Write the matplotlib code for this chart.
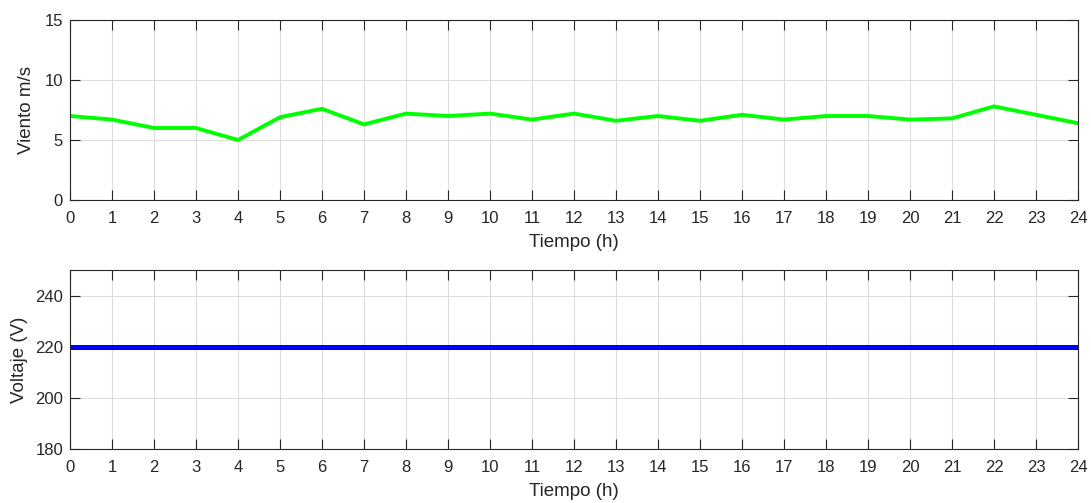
import numpy as np
import matplotlib.pyplot as plt

plt.rcParams['font.family'] = ['Liberation Sans', 'DejaVu Sans']

# datos
horas = np.arange(0, 25)
viento = [7.0, 6.7, 6.0, 6.0, 5.0, 6.9, 7.6, 6.3, 7.2, 7.0, 7.2, 6.7, 7.2,
          6.6, 7.0, 6.6, 7.1, 6.7, 7.0, 7.0, 6.7, 6.8, 7.8, 7.1, 6.4]
voltaje = [220] * 25

W, H = 1091, 503
fig = plt.figure(figsize=(W / 100, H / 100), dpi=100)

def estilo(ax):
    ax.set_xlim(0, 24)
    ax.set_xticks(horas)
    ax.grid(True, color='#dcdcdc', linewidth=0.8)
    ax.set_axisbelow(True)
    ax.tick_params(direction='in', length=7.5, width=0.8, top=True, right=True,
                   labelsize=12, colors='#262626')
    ax.tick_params(axis='x', pad=8)
    ax.tick_params(axis='y', pad=5)
    for s in ax.spines.values():
        s.set_color('#262626')
        s.set_linewidth(0.8)

# VIENTO
ax1 = fig.add_axes([70 / W, 1 - 200 / H, 1008 / W, 180 / H])
ax1.plot(horas, viento, color='#00ff00', linewidth=2.8)
ax1.set_ylim(0, 15)
ax1.set_yticks([0, 5, 10, 15])
estilo(ax1)
ax1.set_xlabel('Tiempo (h)', fontsize=13.5, color='#262626', labelpad=6)
ax1.set_ylabel('Viento m/s', fontsize=13.5, color='#262626', labelpad=7)

# VOLTAJE
ax2 = fig.add_axes([70 / W, 1 - 449 / H, 1008 / W, 179 / H])
ax2.plot(horas, voltaje, color='#0000ff', linewidth=3.6)
ax2.set_ylim(180, 250)
ax2.set_yticks([180, 200, 220, 240])
estilo(ax2)
ax2.set_xlabel('Tiempo (h)', fontsize=13.5, color='#262626', labelpad=6)
ax2.set_ylabel('Voltaje (V)', fontsize=13.5, color='#262626', labelpad=5)

fig.savefig('out.png', dpi=100)
